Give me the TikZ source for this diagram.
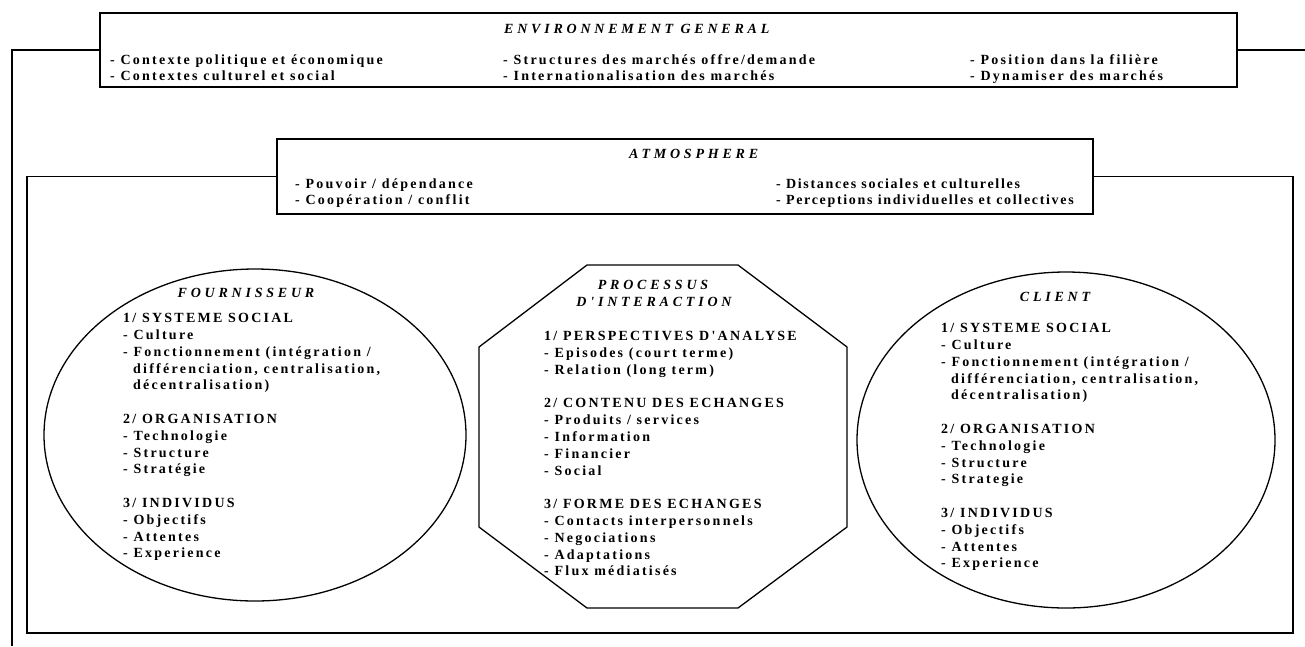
\documentclass[tikz,border=0pt]{standalone}
\usepackage{fontspec}
\setmainfont{Liberation Serif}
\newfontfamily\bodyf{Liberation Serif}[LetterSpace=16]
\newfontfamily\bodytightf{Liberation Serif}[LetterSpace=12]
\newfontfamily\titlef{Liberation Serif}[LetterSpace=27]
\usetikzlibrary{shapes.geometric}
\tikzset{
  frame/.style={draw, line width=1.3pt, line join=miter},
  boxnode/.style={frame, rectangle, inner sep=0pt},
  ellnode/.style={frame, ellipse, inner sep=0pt},
  bodytext/.style={font=\bodyf\bfseries\fontsize{14}{16.8}\selectfont, align=left, inner sep=0pt, anchor=north west},
  envtext/.style={font=\bodyf\bfseries\fontsize{14}{15.5}\selectfont, align=left, inner sep=0pt, anchor=north west},
  atmtext/.style={font=\bodyf\bfseries\fontsize{14}{16}\selectfont, align=left, inner sep=0pt, anchor=north west},
  atmtighttext/.style={atmtext, font=\bodytightf\bfseries\fontsize{14}{16}\selectfont},
  titletext/.style={font=\titlef\bfseries\itshape\fontsize{14}{17}\selectfont, inner sep=0pt},
}
\begin{document}
\begin{tikzpicture}[x=1pt,y=-1pt]
\useasboundingbox (0,0) rectangle (1305,646);

% environment box
\node[boxnode, minimum width=1137pt, minimum height=74pt] (envbox) at (668.5,50) {};
\node[titletext, anchor=base west] (envtitle) at (504,33.5) {ENVIRONNEMENT GENERAL};
\node[envtext] (env1) at (110,53.6) {\strut- Contexte politique et économique\\- Contextes culturel et social};
\node[envtext] (env2) at (503,53.6) {\strut- Structures des marchés offre/demande\\- Internationalisation des marchés};
\node[envtext] (env3) at (970,53.6) {\strut- Position dans la filière\\- Dynamiser des marchés};

% atmosphere box
\node[boxnode, minimum width=816pt, minimum height=75pt] (atmbox) at (685,176.5) {};
\node[titletext, anchor=base west] (atmtitle) at (629,158.5) {ATMOSPHERE};
\node[atmtext] (atm1) at (295,176.8) {\strut- Pouvoir / dépendance\\- Coopération / conflit};
\node[atmtighttext] (atm2) at (776,176.8) {\strut- Distances sociales et culturelles\\- Perceptions individuelles et collectives};

% frames
\coordinate (outBL) at (12,646);
\coordinate (outR) at (1305,50);
\coordinate (inBL) at (27,633);
\coordinate (inBR) at (1293,633);
\draw[frame] (envbox.west) -| (outBL);
\draw[frame] (envbox.east) -- (outR);
\draw[frame] (atmbox.west) -| (inBL) -- (inBR) |- (atmbox.east);

% fournisseur
\node[ellnode, minimum width=422pt, minimum height=332pt] (fourn) at (255,435) {};
\node[titletext, anchor=base] (fourntitle) at (246,297.5) {FOURNISSEUR};
\node[bodytext] (fourntext) at (123,310.7) {\strut1/ SYSTEME SOCIAL\\
- Culture\\
- Fonctionnement (intégration /\\
\hspace*{10pt}différenciation, centralisation,\\
\hspace*{10pt}décentralisation)\\[16.8pt]
2/ ORGANISATION\\
- Technologie\\
- Structure\\
- Stratégie\\[16.8pt]
3/ INDIVIDUS\\
- Objectifs\\
- Attentes\\
- Experience};

% processus
\coordinate (o1) at (587,265);
\coordinate (o2) at (738,265);
\coordinate (o3) at (847,347);
\coordinate (o4) at (847,527);
\coordinate (o5) at (738,608);
\coordinate (o6) at (587,608);
\coordinate (o7) at (479,527);
\coordinate (o8) at (479,347);
\draw[frame] (o1) -- (o2) -- (o3) -- (o4) -- (o5) -- (o6) -- (o7) -- (o8) -- cycle;
\node[titletext, anchor=base] (proctitle1) at (653,289.5) {PROCESSUS};
\node[titletext, anchor=base] (proctitle2) at (654,306.5) {D'INTERACTION};
\node[bodytext] (proctext) at (544,328.7) {\strut1/ PERSPECTIVES D'ANALYSE\\
- Episodes (court terme)\\
- Relation (long term)\\[16.8pt]
2/ CONTENU DES ECHANGES\\
- Produits / services\\
- Information\\
- Financier\\
- Social\\[16.8pt]
3/ FORME DES ECHANGES\\
- Contacts interpersonnels\\
- Negociations\\
- Adaptations\\
- Flux médiatisés};

% client
\node[ellnode, minimum width=418pt, minimum height=336pt] (client) at (1066,440) {};
\node[titletext, anchor=base] (clienttitle) at (1055,301.5) {CLIENT};
\node[bodytext] (clienttext) at (941,320.7) {\strut1/ SYSTEME SOCIAL\\
- Culture\\
- Fonctionnement (intégration /\\
\hspace*{10pt}différenciation, centralisation,\\
\hspace*{10pt}décentralisation)\\[16.8pt]
2/ ORGANISATION\\
- Technologie\\
- Structure\\
- Strategie\\[16.8pt]
3/ INDIVIDUS\\
- Objectifs\\
- Attentes\\
- Experience};
\end{tikzpicture}
\end{document}
